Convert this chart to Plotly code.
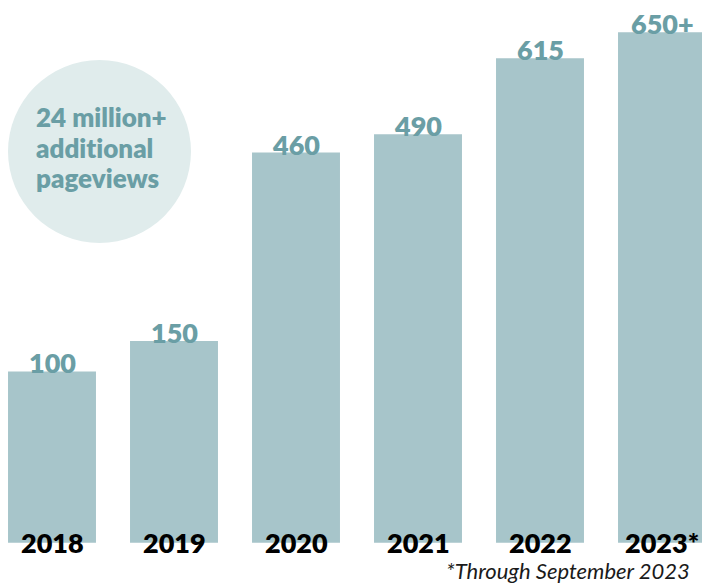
import plotly.graph_objects as go

years = ["2018", "2019", "2020", "2021", "2022", "2023*"]
values = [100, 150, 460, 490, 615, 658]
value_labels = ["100", "150", "460", "490", "615", "650+"]
bar_base = -182
callout_lines = ["24 million+", "addit\u200cional", "pageviews"]
footnote = "*Through September 2023"

BAR = "#a7c5ca"
LABEL = "#6a9ea5"
CIRCLE = "#e0ecec"

W, H = 702, 586
xs = list(range(len(years)))

fig = go.Figure()
fig.add_trace(go.Bar(
    x=xs,
    y=[v - bar_base for v in values],
    base=[bar_base] * len(values),
    marker=dict(color=BAR, line=dict(width=0)),
    hoverinfo="skip",
))

# value labels
for x, v, t in zip(xs, values, value_labels):
    fig.add_annotation(x=x, y=v, text=t, showarrow=False, xanchor="center", yanchor="bottom",
                       yshift=-10, font=dict(family="Lato", size=27, color=LABEL, weight=800))

# year labels
for x, t in zip(xs, years):
    fig.add_annotation(x=x, y=bar_base, text=t, showarrow=False, xanchor="center", yanchor="middle",
                       yshift=0, font=dict(family="Lato", size=27, color="#000000", weight=800))

# callout circle
fig.add_shape(type="circle", xref="paper", yref="paper",
              x0=8 / W, x1=191 / W, y0=1 - 243 / H, y1=1 - 60 / H,
              fillcolor=CIRCLE, line=dict(width=0), layer="below")
for line, cy in zip(callout_lines, [117, 148, 178]):
    fig.add_annotation(xref="paper", yref="paper", x=34 / W, y=1 - cy / H,
                       text=line, showarrow=False, align="left",
                       xanchor="left", yanchor="middle",
                       font=dict(family="Lato", size=26, color=LABEL, weight=800))

fig.add_annotation(xref="paper", yref="paper", x=692 / W, y=0,
                   text="<i>" + footnote + "</i>", showarrow=False, xanchor="right", yanchor="bottom",
                   font=dict(family="Lato", size=22, color="#1a1a1a"))

px_per_unit = 0.6079
zero_px = 432.2
fig.update_layout(
    width=W, height=H,
    margin=dict(l=0, r=0, t=0, b=0),
    paper_bgcolor="white", plot_bgcolor="white",
    showlegend=False,
    bargap=0.279,
    xaxis=dict(range=[-52 / 122, (W - 52) / 122], visible=False, fixedrange=True),
    yaxis=dict(range=[-(H - zero_px) / px_per_unit, zero_px / px_per_unit], visible=False, fixedrange=True),
)
fig.write_html("out.html", config={"displayModeBar": False},
               post_script="document.body.style.margin='0';document.body.style.overflow='hidden';")
